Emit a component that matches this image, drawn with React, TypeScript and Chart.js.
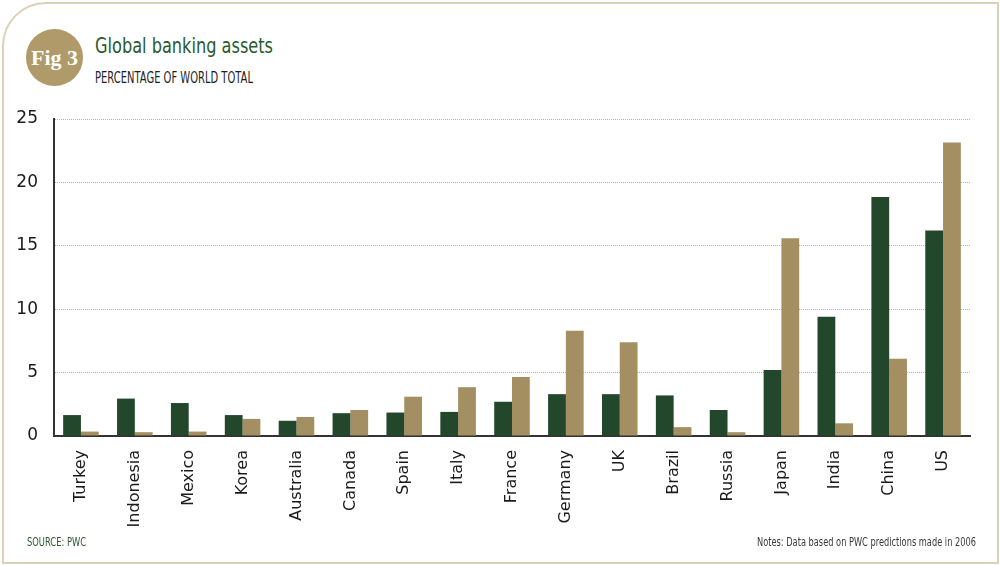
import React, { useEffect, useLayoutEffect, useRef } from "react";
import { Chart, registerables } from "chart.js";

Chart.register(...registerables);

const categories = [
  "Turkey", "Indonesia", "Mexico", "Korea", "Australia", "Canada", "Spain", "Italy",
  "France", "Germany", "UK", "Brazil", "Russia", "Japan", "India", "China", "US",
];
const seriesGreen = [1.65, 2.95, 2.6, 1.65, 1.2, 1.8, 1.85, 1.9, 2.7, 3.3, 3.3, 3.2, 2.05, 5.2, 9.4, 18.85, 16.2];
const seriesTan = [0.35, 0.3, 0.35, 1.35, 1.5, 2.05, 3.1, 3.85, 4.65, 8.3, 7.4, 0.7, 0.3, 15.6, 1.0, 6.1, 23.15];
const yTicks = [0, 5, 10, 15, 20, 25];

const SANS = "'DejaVu Sans', sans-serif";

function FitText(props: { text: string; left: number; top: number; width: number; size: number; color: string }) {
  const ref = useRef<HTMLSpanElement | null>(null);
  useLayoutEffect(() => {
    const el = ref.current;
    if (!el) return;
    el.style.transform = "none";
    const w = el.getBoundingClientRect().width;
    if (w > 0) el.style.transform = `scaleX(${props.width / w})`;
  }, [props.text, props.width, props.size]);
  return (
    <span
      ref={ref}
      style={{
        position: "absolute", left: props.left, top: props.top, fontFamily: SANS, fontSize: props.size,
        color: props.color, whiteSpace: "nowrap", display: "inline-block", transformOrigin: "0 0", lineHeight: "normal",
      }}
    >
      {props.text}
    </span>
  );
}

export default function App() {
  const ref = useRef<HTMLCanvasElement | null>(null);

  useEffect(() => {
    if (!ref.current) return;
    const chart = new Chart(ref.current, {
      type: "bar",
      data: {
        labels: categories,
        datasets: [
          { label: "Green", data: seriesGreen, backgroundColor: "#23472a", borderWidth: 0 },
          { label: "Tan", data: seriesTan, backgroundColor: "#a38f62", borderWidth: 0 },
        ],
      },
      options: {
        animation: false,
        responsive: false,
        maintainAspectRatio: false,
        layout: { padding: { top: 119, right: 30, left: 0, bottom: 0 } },
        plugins: { legend: { display: false }, tooltip: { enabled: false }, title: { display: false } },
        datasets: { bar: { categoryPercentage: 0.66, barPercentage: 1.0 } },
        scales: {
          x: {
            grid: { display: true, drawOnChartArea: false, drawTicks: false, color: "transparent" },
            border: { display: true, color: "#333333", width: 2 },
            ticks: {
              minRotation: 90,
              maxRotation: 90,
              padding: 14,
              color: "#1a1a1a",
              font: { family: SANS, size: 16 },
            },
            afterFit: (scale: any) => { scale.height = 129; },
          },
          y: {
            min: 0,
            max: 25,
            afterBuildTicks: (scale: any) => { scale.ticks = yTicks.map((v) => ({ value: v })); },
            grid: { color: "#b0b0b0", drawTicks: false, lineWidth: 1 },
            border: { display: true, color: "#333333", width: 2, dash: [1, 1] },
            ticks: {
              padding: 16,
              color: "#1a1a1a",
              font: { family: SANS, size: 17 },
            },
            afterFit: (scale: any) => { scale.width = 54; },
          },
        },
      },
    } as any);
    return () => chart.destroy();
  }, []);

  return (
    <div style={{ position: "fixed", left: 0, top: 0, width: 1000, height: 565, background: "#ffffff", overflow: "hidden" }}>
      <div
        style={{
          position: "absolute", left: 2, top: 2, width: 993, height: 558,
          border: "2px solid #ddd0b8", borderTopLeftRadius: 44, boxSizing: "content-box",
        }}
      />
      <div
        style={{
          position: "absolute", left: 26, top: 29, width: 57, height: 57, borderRadius: "50%",
          background: "#b09a69", color: "#ffffff", display: "flex", alignItems: "center", justifyContent: "center",
          fontFamily: "'Liberation Serif', 'DejaVu Serif', serif", fontWeight: "bold", fontSize: 22,
        }}
      >
        Fig 3
      </div>
      <FitText text="Global banking assets" left={95} top={34} width={178} size={20.5} color="#2a5a30" />
      <FitText text="PERCENTAGE OF WORLD TOTAL" left={95} top={69} width={158} size={15} color="#1e1e1e" />
      <canvas ref={ref} width={1000} height={565} style={{ position: "absolute", left: 0, top: 0, width: 1000, height: 565 }} />
      <FitText text="SOURCE: PWC" left={27} top={535} width={59} size={12.3} color="#2a5a30" />
      <FitText text="Notes: Data based on PWC predictions made in 2006" left={757} top={535} width={219} size={12.3} color="#3a3a3a" />
    </div>
  );
}
